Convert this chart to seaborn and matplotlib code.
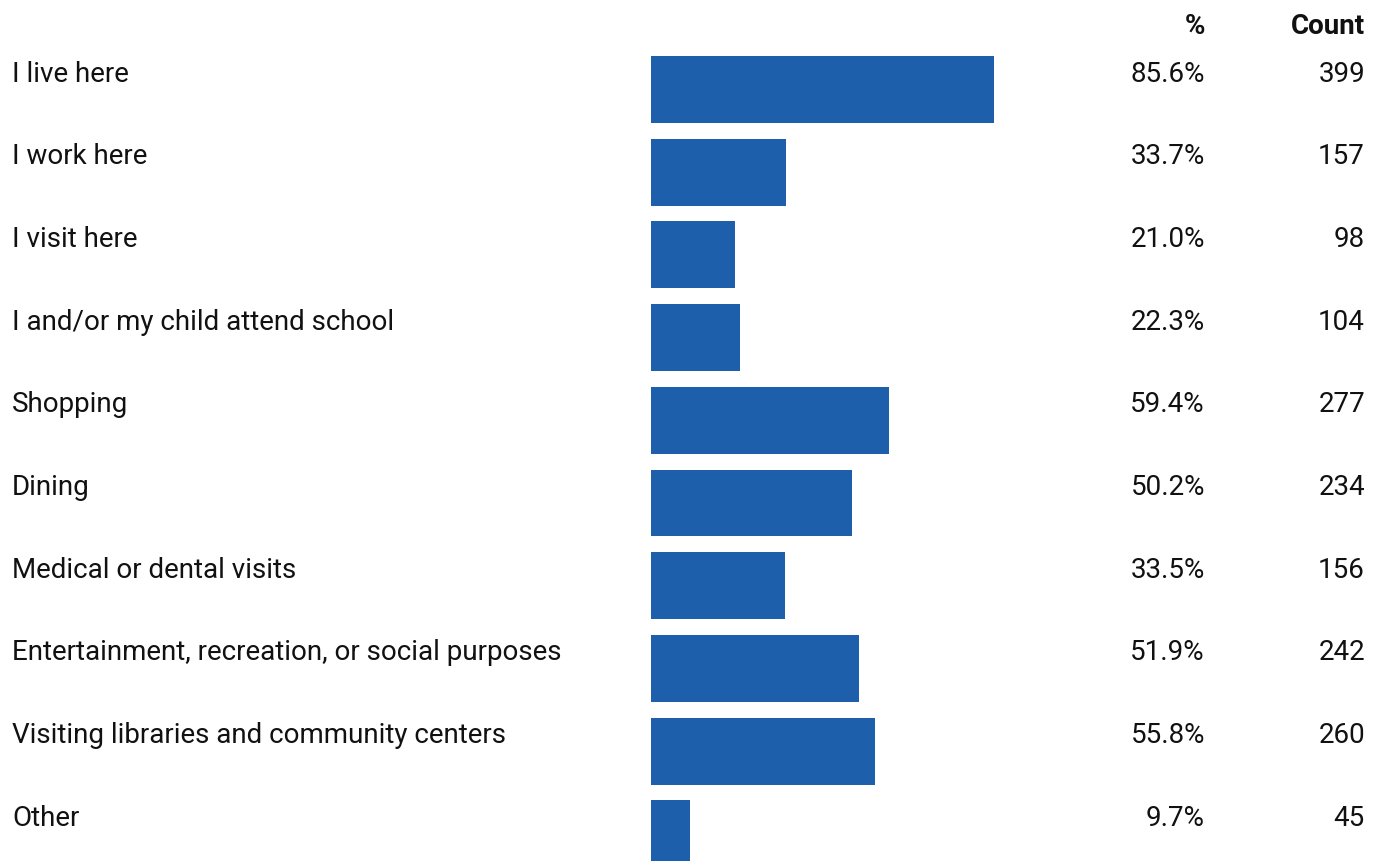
import matplotlib
matplotlib.use("Agg")
import matplotlib.pyplot as plt
import matplotlib.transforms as mtransforms
import seaborn as sns
import pandas as pd

categories = [
    "I live here",
    "I work here",
    "I visit here",
    "I and/or my child attend school",
    "Shopping",
    "Dining",
    "Medical or dental visits",
    "Entertainment, recreation, or social purposes",
    "Visiting libraries and community centers",
    "Other",
]
percents = [85.6, 33.7, 21.0, 22.3, 59.4, 50.2, 33.5, 51.9, 55.8, 9.7]
counts = [399, 157, 98, 104, 277, 234, 156, 242, 260, 45]
headers = ["%", "Count"]

sns.set_theme(style="white")
plt.rcParams["font.family"] = ["Roboto", "DejaVu Sans"]

W, H = 1376, 861
fig = plt.figure(figsize=(W / 100, H / 100), dpi=100)
ax = fig.add_axes([651 / W, 0, 401 / W, 1])

df = pd.DataFrame({"cat": categories, "pct": percents})
sns.barplot(data=df, x="pct", y="cat", orient="h", color="#1d5fab",
            saturation=1, width=0.81, linewidth=0, ax=ax)
ax.set_xlim(0, 100)
step = 82.7
ax.set_ylim((H - 89.5) / step, -89.5 / step)
ax.axis("off")

trans = mtransforms.blended_transform_factory(fig.transFigure, ax.transData)
off = 15.5 / step
fs = 20
col = "#111111"
for i, (c, p, n) in enumerate(zip(categories, percents, counts)):
    y = i - off
    ax.text(12 / W, y, c, transform=trans, ha="left", va="center", fontsize=fs, color=col)
    ax.text(1205 / W, y, f"{p:.1f}%", transform=trans, ha="right", va="center", fontsize=fs, color=col)
    ax.text(1365 / W, y, f"{n}", transform=trans, ha="right", va="center", fontsize=fs, color=col)

fig.text(1205 / W, 1 - 27 / H, headers[0], ha="right", va="center", fontsize=fs, fontweight="bold", color=col)
fig.text(1365 / W, 1 - 27 / H, headers[1], ha="right", va="center", fontsize=fs, fontweight="bold", color=col)

fig.savefig("out.png", dpi=100)
